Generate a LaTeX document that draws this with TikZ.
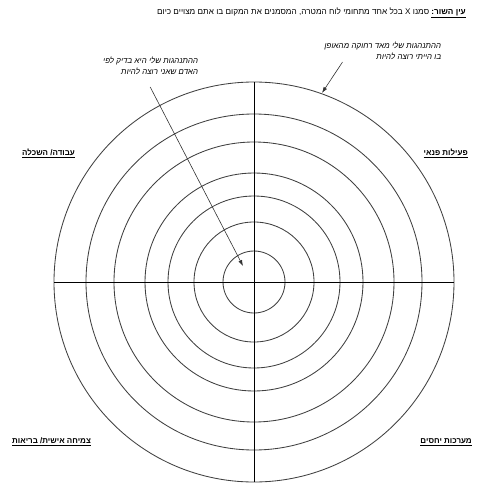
\documentclass[tikz,border=0pt]{standalone}
\usepackage{fontspec}
\setmainfont{Liberation Sans}
\newfontfamily\hebfont[Script=Hebrew]{Liberation Sans}
\newfontfamily\hebslant[Script=Hebrew,FakeSlant=0.2]{Liberation Sans}
\TeXXeTstate=1
\usepackage{tikz}
\usetikzlibrary{arrows.meta, positioning}

\begin{document}
\begin{tikzpicture}[x=1pt, y=-1pt,
  ring/.style={draw=black!75, line width=0.85pt},
  axis/.style={draw=black, line width=0.8pt},
  note/.style={font=\hebslant\fontsize{8}{11}\selectfont, align=right, inner sep=0pt},
  area/.style={font=\hebfont\bfseries\fontsize{8}{10}\selectfont, inner sep=0pt},
  arr/.style={-{Latex[length=6pt, width=4pt]}, line width=0.6pt, black!80}
]
  \useasboundingbox (0,0) rectangle (483,488);
  \coordinate (ctr) at (254,282);

  % target rings
  \foreach \r in {31,60,86,109,140,168,200}
    \draw[ring] (ctr) circle (\r);
  \draw[axis] (54,282) -- (454,282);
  \draw[axis] (254,82) -- (254,482);

  % title
  \node[anchor=east, inner sep=0pt, font=\hebfont\fontsize{8.2}{11}\selectfont] (title) at (466,13)
    {\beginR\underline{\hbox{\bfseries\beginR עין השור:\endR}} סמנו X בכל אחד מתחומי לוח המטרה, המסמנים את המקום בו אתם מצויים כיום\endR};

  % notes with arrows
  \node[note, anchor=north east] (far) at (441,42)
    {\beginR ההתנהגות שלי מאד רחוקה מהאופן\endR\\ \beginR בו הייתי רוצה להיות\endR};
  \node[note, anchor=north east] (near) at (198,57)
    {\beginR ההתנהגות שלי היא בדיק לפי\endR\\ \beginR האדם שאני רוצה להיות\endR};
  \coordinate (outer) at (322,93);
  \coordinate (inner) at (243,266);
  \draw[arr] (far.south) ++(-40,2) coordinate (farstart) -- (outer);
  \draw[arr] (near.south) ++(0,12) coordinate (nearstart) -- (inner);

  % areas
  \node[area, anchor=west] (work) at (22,153) {\underline{\hbox{\beginR עבודה/ השכלה\endR}}};
  \node[area, anchor=east] (leisure) at (468,153) {\underline{\hbox{\beginR פעילות פנאי\endR}}};
  \node[area, anchor=west] (growth) at (12,442) {\underline{\hbox{\beginR צמיחה אישית/ בריאות\endR}}};
  \node[area, anchor=east] (relations) at (472,442) {\underline{\hbox{\beginR מערכות יחסים\endR}}};
\end{tikzpicture}
\end{document}
